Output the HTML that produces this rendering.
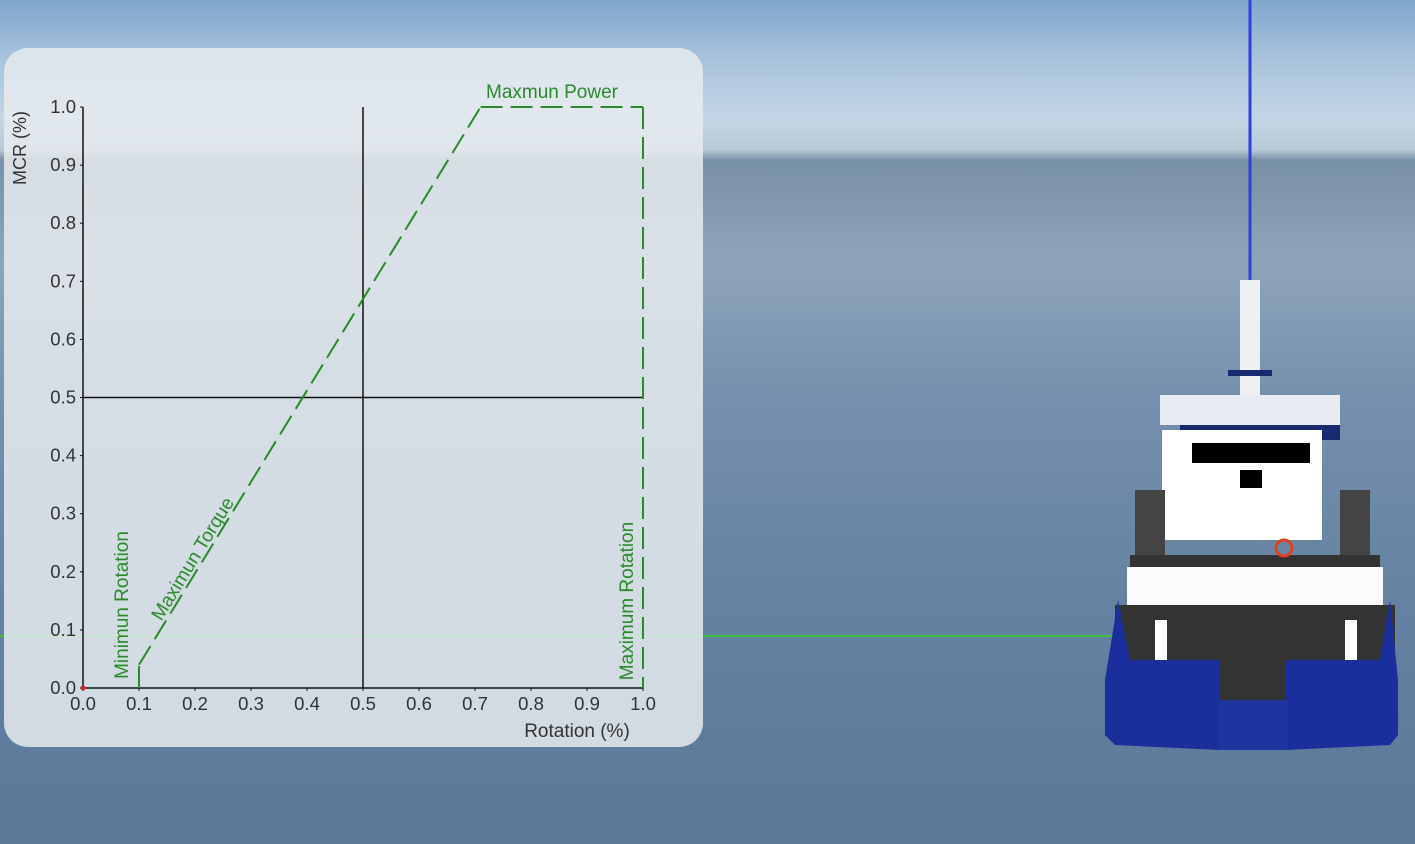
<!DOCTYPE html>
<html><head><meta charset="utf-8"><style>
body{margin:0;width:1415px;height:844px;overflow:hidden;font-family:"Liberation Sans",sans-serif;}
#bg{position:absolute;left:0;top:0;width:1415px;height:844px;
background:linear-gradient(180deg,#7fa6cc 0px,#a9c3dc 60px,#c4d6e6 120px,#b8c8d6 150px,#7890a8 160px,#8ea4ba 260px,#7590ad 400px,#6582a2 600px,#5b7898 844px);}
</style></head><body>
<div id="bg"></div>
<svg width="1415" height="844" style="position:absolute;left:0;top:0">
 <line x1="0" y1="636" x2="1115" y2="636" stroke="#3fbf3f" stroke-width="2"/>
 <line x1="1250" y1="0" x2="1250" y2="285" stroke="#2f3fe0" stroke-width="3"/>
 <g>
  <rect x="1240" y="280" width="20" height="120" fill="#eef0f4"/>
  <rect x="1228" y="370" width="44" height="6" fill="#1a2a70"/>
  <rect x="1160" y="395" width="180" height="30" fill="#e8ecf2"/>
  <rect x="1180" y="425" width="160" height="15" fill="#1a2a70"/>
  <rect x="1162" y="430" width="160" height="110" fill="#ffffff"/>
  <rect x="1192" y="443" width="118" height="20" fill="#000"/>
  <rect x="1240" y="470" width="22" height="18" fill="#000"/>
  <rect x="1135" y="490" width="30" height="70" fill="#444"/>
  <rect x="1340" y="490" width="30" height="70" fill="#444"/>
  <rect x="1130" y="555" width="250" height="12" fill="#333"/>
  <rect x="1127" y="567" width="256" height="70" fill="#fbfbfd"/>
  <rect x="1115" y="605" width="280" height="100" fill="#333"/>
  <rect x="1155" y="620" width="12" height="50" fill="#fff"/>
  <rect x="1345" y="620" width="12" height="50" fill="#fff"/>
  <path d="M1118 600 L1130 660 L1220 660 L1220 750 L1115 745 L1105 735 L1105 680 Z" fill="#1b2f9c"/>
  <path d="M1390 600 L1380 660 L1285 660 L1285 750 L1390 745 L1398 735 L1398 680 Z" fill="#1b2f9c"/>
  <rect x="1218" y="700" width="70" height="50" fill="#1e349e"/>
  <circle cx="1284" cy="548" r="8" fill="none" stroke="#e04020" stroke-width="3"/>
 </g>
 <rect x="4" y="48" width="699" height="699" rx="24" fill="#e6ebef" fill-opacity="0.85"/>
 <g id="chart"></g>
</svg>
<script>
const xTicks=[0,0.1,0.2,0.3,0.4,0.5,0.6,0.7,0.8,0.9,1.0];
const yTicks=[0,0.1,0.2,0.3,0.4,0.5,0.6,0.7,0.8,0.9,1.0];
const minRotation=[[0.1,0],[0.1,0.04]];
const maxTorque=[[0.1,0.04],[0.71,1.0]];
const maxPower=[[0.71,1.0],[1.0,1.0]];
const maxRotation=[[1.0,1.0],[1.0,0]];
const X=v=>83+v*560, Y=v=>688-v*581;
const NS="http://www.w3.org/2000/svg", g=document.getElementById('chart');
function el(t,a,txt){const e=document.createElementNS(NS,t);for(const k in a)e.setAttribute(k,a[k]);if(txt!==undefined)e.textContent=txt;g.appendChild(e);return e;}
let e;
e=el('line',{x1:X(0),y1:Y(0),x2:X(0),y2:Y(1),stroke:'#111','stroke-width':1.5});


e=el('line',{x1:X(0),y1:Y(0),x2:X(1),y2:Y(0),stroke:'#111','stroke-width':1.5});


e=el('line',{x1:X(0.5),y1:Y(0),x2:X(0.5),y2:Y(1),stroke:'#111','stroke-width':1.5});


e=el('line',{x1:X(0),y1:Y(0.5),x2:X(1),y2:Y(0.5),stroke:'#111','stroke-width':1.5});


xTicks.forEach(v=>{
 e=el('text',{x:X(v),y:710,'text-anchor':'middle','font-size':18.5,fill:'#333'},v.toFixed(1));
 
 
 e=el('line',{x1:X(v),y1:Y(0),x2:X(v),y2:Y(0)+3,stroke:'#111'});
 
 
});
yTicks.forEach(v=>{
 e=el('text',{x:76,y:Y(v)+6,'text-anchor':'end','font-size':18.5,fill:'#333'},v.toFixed(1));
 
 
 e=el('line',{x1:X(0)-3,y1:Y(v),x2:X(0),y2:Y(v),stroke:'#111'});
 
 
});
e=el('circle',{cx:X(0),cy:Y(0),r:2.5,fill:'#d02020'});


[['min-rotation-line',minRotation],['max-torque-line',maxTorque],['max-power-line',maxPower],['max-rotation-line',maxRotation]].forEach(([n,pts])=>{
 e=el('polyline',{points:pts.map(p=>X(p[0])+','+Y(p[1])).join(' '),fill:'none',stroke:'#2a8a2a','stroke-width':2,'stroke-dasharray':'22,8'});
 
 
});
const ang=Math.atan2(Y(maxTorque[1][1])-Y(maxTorque[0][1]),X(maxTorque[1][0])-X(maxTorque[0][0]))*180/Math.PI;
function lab(txt,x,y,rot,name,anchor){e=el('text',{x:x,y:y,'text-anchor':anchor||'middle','font-size':19,fill:'#2a8a2a',transform:rot?`rotate(${rot} ${x} ${y})`:''},txt);
 
 }
lab('Minimun Rotation',128,605,-90,'min-rotation-label');
lab('Maximun Torque',198,562,ang,'max-torque-label');
lab('Maximum Rotation',633,601,-90,'max-rotation-label');
lab('Maxmun Power',552,98,0,'max-power-label');
e=el('text',{x:26,y:148,'text-anchor':'middle','font-size':18,fill:'#333',transform:'rotate(-90 26 148)'},'MCR (%)');


e=el('text',{x:577,y:737,'text-anchor':'middle','font-size':19,fill:'#333'},'Rotation (%)');


</script>
</body></html>
